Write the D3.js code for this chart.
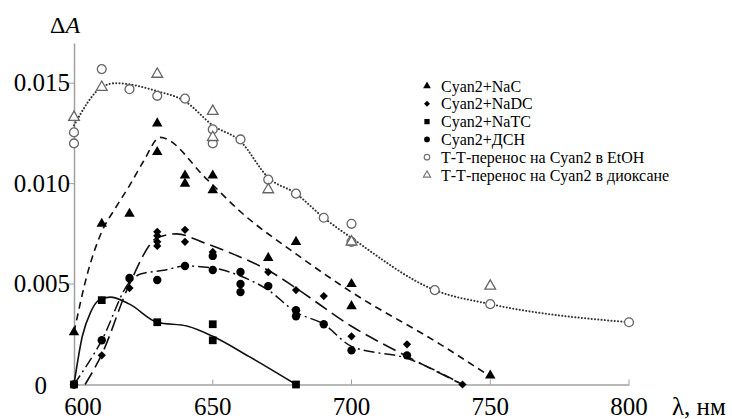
<!DOCTYPE html>
<html>
<head>
<meta charset="utf-8">
<script src="https://cdn.jsdelivr.net/npm/d3@7"></script>
<style>
  svg text { font-family: "Liberation Serif", serif !important; }
</style>
</head>
<body style="margin:0">
<script>
// measured points [lambda, dA]
var nacPts   = [[600,0.0026],[610,0.0080],[620,0.0085],[630,0.0130],[630,0.01157],[640,0.0104],[640,0.0100],
                [650,0.0104],[650,0.00967],[670,0.0063],[680,0.0071],[700,0.0050],[700,0.0039],[750,0.00045]]
var nadcPts  = [[600,0],[610,0.00145],[620,0.0052],[620,0.0048],[630,0.0076],[630,0.0074],[630,0.0071],[630,0.0069],
                [640,0.0077],[640,0.0071],[650,0.0066],[670,0.0056],[680,0.0047],[690,0.0044],[700,0.0024],[720,0.0020],[740,0]]
var natcPts  = [[600,0],[610,0.0042],[630,0.0031],[650,0.0030],[650,0.0022],[680,0]]
var dsnPts   = [[600,0],[610,0.0022],[620,0.0053],[630,0.0052],[640,0.0059],[650,0.0064],[650,0.0057],
                [660,0.0056],[660,0.0050],[660,0.0046],[670,0.0049],[680,0.0037],[680,0.0034],[690,0.0030],[700,0.0017],[720,0.00145]]
var etohPts  = [[600,0.01255],[600,0.0120],[610,0.0157],[620,0.0147],[630,0.01437],[640,0.01423],[650,0.0127],[650,0.0120],
                [660,0.0122],[670,0.0102],[680,0.0095],[690,0.0083],[700,0.0080],[700,0.0071],[730,0.0047],[750,0.0040],[800,0.0031]]
var dioxPts  = [[600,0.0133],[610,0.0148],[630,0.01545],[650,0.0136],[650,0.0123],[670,0.0097],[700,0.0071],[750,0.0049]]

// fitted curves (knots)
var nacFit  = [[600,0.0026],[605,0.0056],[610,0.0076],[615,0.0088],[620,0.0099],[625,0.0111],[631,0.0123],[648,0.0102],
               [660,0.0086],[680,0.0065],[700,0.0046],[732,0.0020],[750,0.0004]]
var nadcFit = [[604,0],[610,0.0015],[620,0.0050],[630,0.0073],[637,0.0075],[646,0.0071],[659,0.0064],[671,0.0056],
               [680,0.0048],[700,0.0029],[720,0.0014],[740,0]]
var natcFit = [[600,0],[603,0.0024],[606,0.0036],[609,0.0042],[613,0.00435],[620,0.0040],[630,0.0031],[641,0.0029],
               [650,0.0024],[663,0.0014],[680,0]]
var dsnFit  = [[600,0],[610,0.0022],[620,0.0051],[624,0.0055],[633,0.0057],[640,0.0059],[650,0.0058],[660,0.0054],
               [670,0.0047],[680,0.0036],[690,0.0030],[700,0.0019],[720,0.0013],[740,0]]
var etohFit = [[600,0.0129],[610,0.0148],[615,0.0150],[630,0.0146],[640,0.0141],[650,0.0129],[660,0.0121],[670,0.0103],
               [680,0.0095],[690,0.0083],[700,0.0073],[730,0.0047],[750,0.0040],[800,0.0031]]

var xTicks = [600, 650, 700, 750, 800]
var yTicks = [0, 0.005, 0.010, 0.015]
var yTickLabels = ['0', '0.005', '0.010', '0.015']
var legendNames = ['Cyan2+NaC', 'Cyan2+NaDC', 'Cyan2+NaTC', 'Cyan2+ДСН', 'Т-Т-перенос на Cyan2 в EtOH', 'Т-Т-перенос на Cyan2 в диоксане']

var W = 732, H = 419
var svg = d3.select("body").append("svg").attr("width", W).attr("height", H)

var x = d3.scaleLinear().domain([600, 800]).range([74, 629])
var y = d3.scaleLinear().domain([0, 0.017]).range([384.5, 43])

var axisCol = "#a0a0a0"

function label(px, py, str, size, anchor) {
  return svg.append("text").attr("x", px).attr("y", py).attr("font-family", "Liberation Serif")
    .style("font-size", size + "px").attr("text-anchor", anchor || "start").text(str)
}

// axes
var xAxis = svg.append("g").attr("transform", "translate(0," + y(0) + ")")
  .call(d3.axisBottom(x).tickValues(xTicks).tickSize(0).tickFormat(""))
xAxis.select(".domain").attr("stroke", axisCol).attr("stroke-width", 1.5)
xAxis.selectAll(".tick").remove()
xTicks.forEach(function(t) {
  svg.append("line").attr("x1", x(t)).attr("x2", x(t)).attr("y1", y(0) - 5).attr("y2", y(0))
    .attr("stroke", axisCol).attr("stroke-width", 1)
  label(x(t) + (t == 600 ? 9 : 0), 415, String(t), 25, "middle")
})

var yAxis = svg.append("g").attr("transform", "translate(" + x(600) + ",0)")
  .call(d3.axisLeft(y).tickValues(yTicks).tickSize(0).tickFormat(""))
yAxis.select(".domain").attr("stroke", axisCol).attr("stroke-width", 1.5)
yAxis.selectAll(".tick").remove()
yTicks.forEach(function(t, i) {
  if (t > 0) {
    svg.append("line").attr("x1", x(600) - 6).attr("x2", x(600)).attr("y1", y(t)).attr("y2", y(t))
      .attr("stroke", axisCol).attr("stroke-width", 1)
  }
  label(t == 0 ? 47 : 70, y(t) + (t == 0 ? 9 : 8), yTickLabels[i], 25, "end")
})

var yl = label(50, 33, "", 24)
yl.append("tspan").text("Δ")
yl.append("tspan").style("font-style", "italic").text("A")
label(672, 415, "λ, нм", 25)

// fit lines
var line = d3.line().x(function(d) { return x(d[0]) }).y(function(d) { return y(d[1]) }).curve(d3.curveMonotoneX)
var fits = [
  {data: etohFit, dash: "0.1,3.2", w: 2, col: "#333", cap: "round"},
  {data: nacFit, dash: "7,5", w: 1.6, col: "#111", cap: "butt"},
  {data: nadcFit, dash: "14,6", w: 1.6, col: "#111", cap: "butt"},
  {data: dsnFit, dash: "11,4,2,4", w: 1.5, col: "#111", cap: "butt"},
  {data: natcFit, dash: null, w: 1.6, col: "#111", cap: "butt"}
]
fits.forEach(function(f) {
  svg.append("path").datum(f.data).attr("d", line).attr("fill", "none")
    .attr("stroke", f.col).attr("stroke-width", f.w).attr("stroke-linecap", f.cap)
    .attr("stroke-dasharray", f.dash)
})

// markers
var sym = {
  tri: d3.symbol().type(d3.symbolTriangle),
  dia: d3.symbol().type(d3.symbolSquare),
  sq: d3.symbol().type(d3.symbolSquare),
  circ: d3.symbol().type(d3.symbolCircle)
}
var series = [
  {pts: etohPts, s: "circ", size: 62, fill: "#fff", stroke: "#666"},
  {pts: dioxPts, s: "tri", size: 50, fill: "#fff", stroke: "#666"},
  {pts: nacPts, s: "tri", size: 48, fill: "#000", stroke: "none"},
  {pts: nadcPts, s: "dia", size: 34, fill: "#000", stroke: "none", rot: 45},
  {pts: natcPts, s: "sq", size: 60, fill: "#000", stroke: "none"},
  {pts: dsnPts, s: "circ", size: 55, fill: "#000", stroke: "none"}
]
series.forEach(function(se) {
  svg.append("g").selectAll("path").data(se.pts).enter().append("path")
    .attr("d", sym[se.s].size(se.size))
    .attr("transform", function(d) { return "translate(" + x(d[0]) + "," + y(d[1]) + ")" + (se.rot ? " rotate(45)" : "") })
    .attr("fill", se.fill).attr("stroke", se.stroke).attr("stroke-width", 1.3)
})

// legend
var legSym = [
  {s: "tri", fill: "#000", stroke: "none", size: 26},
  {s: "dia", fill: "#000", stroke: "none", size: 18, rot: 45},
  {s: "sq", fill: "#000", stroke: "none", size: 28},
  {s: "circ", fill: "#000", stroke: "none", size: 26},
  {s: "circ", fill: "#fff", stroke: "#777", size: 24},
  {s: "tri", fill: "#fff", stroke: "#777", size: 22}
]
legendNames.forEach(function(n, i) {
  var ls = legSym[i]
  var ly = 86 + i * 17.8
  svg.append("path").attr("d", sym[ls.s].size(ls.size))
    .attr("transform", "translate(427," + ly + ")" + (ls.rot ? " rotate(45)" : ""))
    .attr("fill", ls.fill).attr("stroke", ls.stroke).attr("stroke-width", 1.2)
  label(441, ly + 5.5, n, 16)
})
</script>
</body>
</html>
